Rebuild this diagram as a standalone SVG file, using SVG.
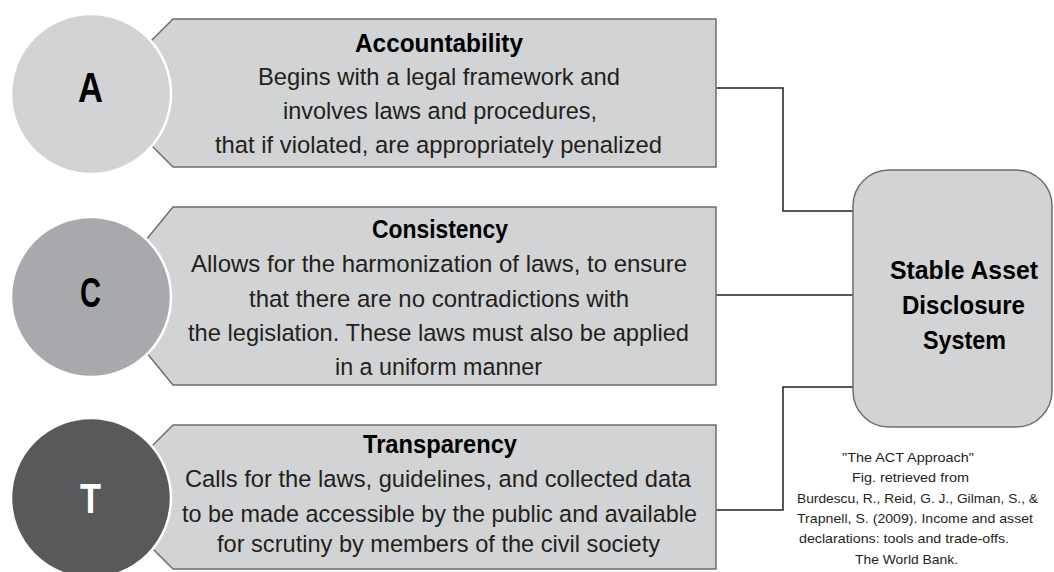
<svg xmlns="http://www.w3.org/2000/svg" width="1054" height="572" viewBox="0 0 1054 572">
<style>
.box{fill:#d1d3d4;stroke:#6d6e71;stroke-width:1.5}
.circ{stroke:#ffffff;stroke-width:2.5}
.conn{fill:none;stroke:#231f20;stroke-width:1.5}
.t{font-family:"Liberation Sans","Arial",sans-serif;font-size:24.5px;fill:#231f20}
.h{font-family:"Liberation Sans","Arial",sans-serif;font-size:25px;font-weight:bold;fill:#000000}
.L{font-family:"Liberation Sans","Arial",sans-serif;font-size:42px;font-weight:bold}
.cite{font-family:"Liberation Sans","Open Sans",sans-serif;font-size:13px;fill:#231f20}
</style>
<rect width="1054" height="572" fill="#ffffff"/>
<g id="connectors">
<path class="conn" d="M716,88 H783 V211 H853"/>
<path class="conn" d="M716,295 H853"/>
<path class="conn" d="M716,510 H783 V387 H853"/>
</g>
<g id="accountability">
<polygon class="box" points="173,19 716,19 716,167 173,167 99,93"/>
<text class="h" x="355" y="52" textLength="168" lengthAdjust="spacingAndGlyphs">Accountability</text>
<text class="t" x="258" y="85" textLength="362" lengthAdjust="spacingAndGlyphs">Begins with a legal framework and</text>
<text class="t" x="283" y="119" textLength="314" lengthAdjust="spacingAndGlyphs">involves laws and procedures,</text>
<text class="t" x="215" y="153" textLength="447" lengthAdjust="spacingAndGlyphs">that if violated, are appropriately penalized</text>
</g>
<g id="circle-a">
<circle class="circ" cx="91" cy="94" r="80" fill="#d1d3d4"/>
<text class="L" x="78" y="102" textLength="25" lengthAdjust="spacingAndGlyphs" fill="#000000">A</text>
</g>
<g id="consistency">
<polygon class="box" points="173,207 716,207 716,385 173,385 100,296"/>
<text class="h" x="372" y="238" textLength="136" lengthAdjust="spacingAndGlyphs">Consistency</text>
<text class="t" x="191" y="272" textLength="496" lengthAdjust="spacingAndGlyphs">Allows for the harmonization of laws, to ensure</text>
<text class="t" x="249" y="307" textLength="380" lengthAdjust="spacingAndGlyphs">that there are no contradictions with</text>
<text class="t" x="188" y="341" textLength="501" lengthAdjust="spacingAndGlyphs">the legislation. These laws must also be applied</text>
<text class="t" x="335" y="375" textLength="207" lengthAdjust="spacingAndGlyphs">in a uniform manner</text>
</g>
<g id="circle-c">
<circle class="circ" cx="91" cy="297" r="80" fill="#a7a9ac"/>
<text class="L" x="80" y="307" textLength="21" lengthAdjust="spacingAndGlyphs" fill="#000000">C</text>
</g>
<g id="transparency">
<polygon class="box" points="173,425 716,425 716,569 173,569 101,497"/>
<text class="h" x="363" y="453" textLength="154" lengthAdjust="spacingAndGlyphs">Transparency</text>
<text class="t" x="185" y="487" textLength="506" lengthAdjust="spacingAndGlyphs">Calls for the laws, guidelines, and collected data</text>
<text class="t" x="182" y="522" textLength="515" lengthAdjust="spacingAndGlyphs">to be made accessible by the public and available</text>
<text class="t" x="217" y="552" textLength="443" lengthAdjust="spacingAndGlyphs">for scrutiny by members of the civil society</text>
</g>
<g id="circle-t">
<circle class="circ" cx="91" cy="498" r="80" fill="#58595b"/>
<text class="L" x="80" y="513" textLength="21" lengthAdjust="spacingAndGlyphs" fill="#ffffff">T</text>
</g>
<g id="stable-asset-disclosure-system">
<rect class="box" x="853" y="170" width="199" height="257" rx="36" ry="36"/>
<text class="h" x="890" y="279" textLength="148" lengthAdjust="spacingAndGlyphs">Stable Asset</text>
<text class="h" x="902" y="314" textLength="123" lengthAdjust="spacingAndGlyphs">Disclosure</text>
<text class="h" x="923" y="349" textLength="83" lengthAdjust="spacingAndGlyphs">System</text>
</g>
<g id="citation">
<text class="cite" x="842" y="462" textLength="132" lengthAdjust="spacingAndGlyphs">"The ACT Approach"</text>
<text class="cite" x="852" y="482" textLength="117" lengthAdjust="spacingAndGlyphs">Fig. retrieved from</text>
<text class="cite" x="797" y="503" textLength="241" lengthAdjust="spacingAndGlyphs">Burdescu, R., Reid, G. J., Gilman, S., &amp;</text>
<text class="cite" x="797" y="523" textLength="236" lengthAdjust="spacingAndGlyphs">Trapnell, S. (2009). Income and asset</text>
<text class="cite" x="799" y="543" textLength="210" lengthAdjust="spacingAndGlyphs">declarations: tools and trade-offs.</text>
<text class="cite" x="855" y="564" textLength="103" lengthAdjust="spacingAndGlyphs">The World Bank.</text>
</g>
</svg>
